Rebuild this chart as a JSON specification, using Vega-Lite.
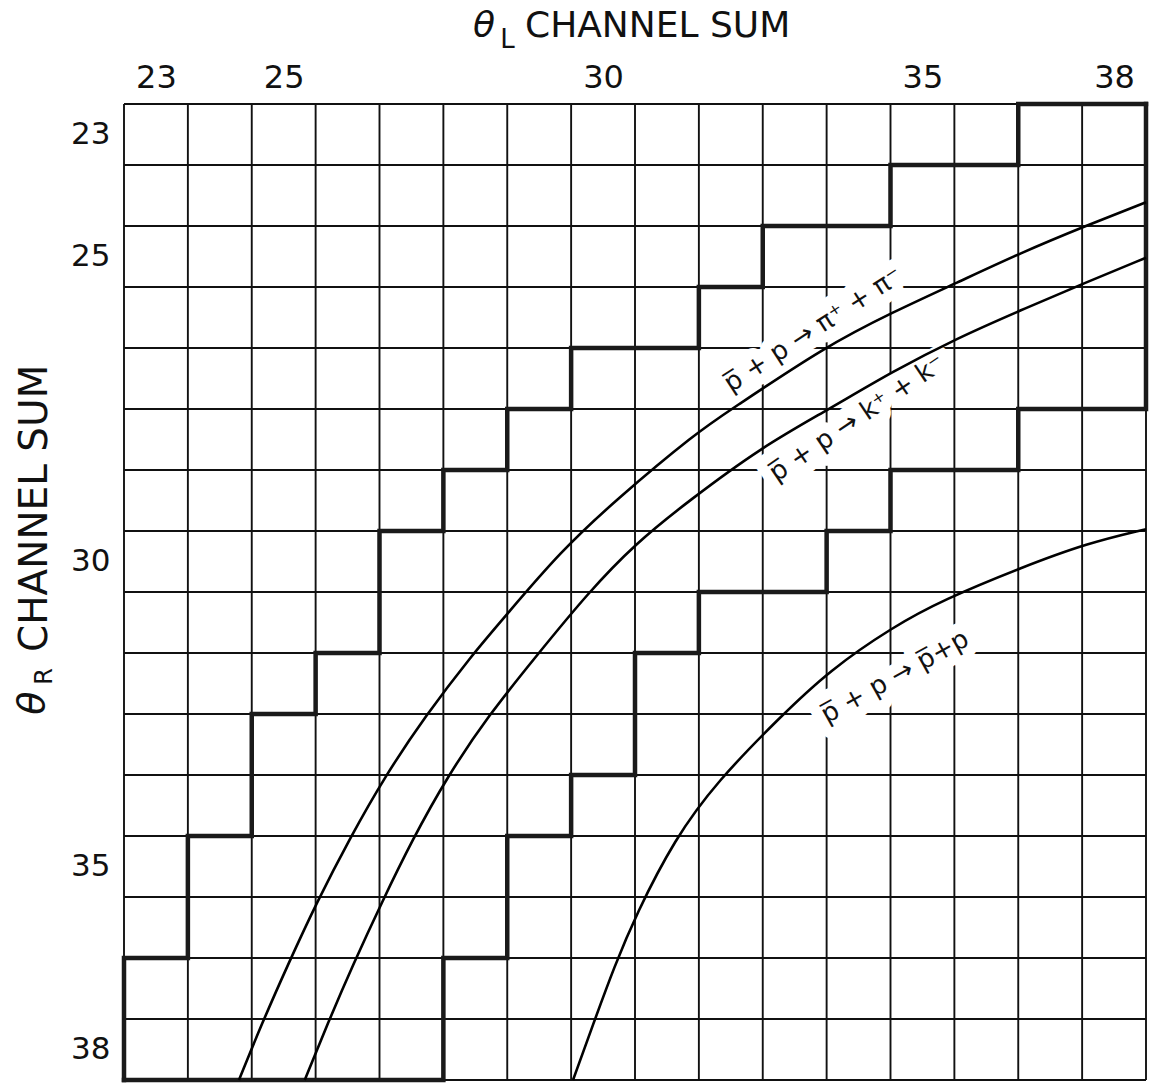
{
  "$schema": "https://vega.github.io/schema/vega-lite/v6.json",
  "autosize": "none",
  "width": 1022,
  "height": 976,
  "padding": {"left": 124, "top": 104, "right": 3, "bottom": 3},
  "background": "white",
  "config": {"view": {"stroke": null}},
  "datasets": {
    "edges": [
      {"v": 22.5}, {"v": 23.5}, {"v": 24.5}, {"v": 25.5}, {"v": 26.5}, {"v": 27.5},
      {"v": 28.5}, {"v": 29.5}, {"v": 30.5}, {"v": 31.5}, {"v": 32.5}, {"v": 33.5},
      {"v": 34.5}, {"v": 35.5}, {"v": 36.5}, {"v": 37.5}, {"v": 38.5}
    ],
    "stairs": [
      {"boundary": "upper", "step": 1, "x": 38.5, "y": 22.5},
      {"boundary": "upper", "step": 2, "x": 36.5, "y": 22.5},
      {"boundary": "upper", "step": 3, "x": 36.5, "y": 23.5},
      {"boundary": "upper", "step": 4, "x": 34.5, "y": 23.5},
      {"boundary": "upper", "step": 5, "x": 34.5, "y": 24.5},
      {"boundary": "upper", "step": 6, "x": 32.5, "y": 24.5},
      {"boundary": "upper", "step": 7, "x": 32.5, "y": 25.5},
      {"boundary": "upper", "step": 8, "x": 31.5, "y": 25.5},
      {"boundary": "upper", "step": 9, "x": 31.5, "y": 26.5},
      {"boundary": "upper", "step": 10, "x": 29.5, "y": 26.5},
      {"boundary": "upper", "step": 11, "x": 29.5, "y": 27.5},
      {"boundary": "upper", "step": 12, "x": 28.5, "y": 27.5},
      {"boundary": "upper", "step": 13, "x": 28.5, "y": 28.5},
      {"boundary": "upper", "step": 14, "x": 27.5, "y": 28.5},
      {"boundary": "upper", "step": 15, "x": 27.5, "y": 29.5},
      {"boundary": "upper", "step": 16, "x": 26.5, "y": 29.5},
      {"boundary": "upper", "step": 17, "x": 26.5, "y": 31.5},
      {"boundary": "upper", "step": 18, "x": 25.5, "y": 31.5},
      {"boundary": "upper", "step": 19, "x": 25.5, "y": 32.5},
      {"boundary": "upper", "step": 20, "x": 24.5, "y": 32.5},
      {"boundary": "upper", "step": 21, "x": 24.5, "y": 34.5},
      {"boundary": "upper", "step": 22, "x": 23.5, "y": 34.5},
      {"boundary": "upper", "step": 23, "x": 23.5, "y": 36.5},
      {"boundary": "upper", "step": 24, "x": 22.5, "y": 36.5},
      {"boundary": "upper", "step": 25, "x": 22.5, "y": 38.5},
      {"boundary": "lower", "step": 1, "x": 22.5, "y": 38.5},
      {"boundary": "lower", "step": 2, "x": 27.5, "y": 38.5},
      {"boundary": "lower", "step": 3, "x": 27.5, "y": 36.5},
      {"boundary": "lower", "step": 4, "x": 28.5, "y": 36.5},
      {"boundary": "lower", "step": 5, "x": 28.5, "y": 34.5},
      {"boundary": "lower", "step": 6, "x": 29.5, "y": 34.5},
      {"boundary": "lower", "step": 7, "x": 29.5, "y": 33.5},
      {"boundary": "lower", "step": 8, "x": 30.5, "y": 33.5},
      {"boundary": "lower", "step": 9, "x": 30.5, "y": 31.5},
      {"boundary": "lower", "step": 10, "x": 31.5, "y": 31.5},
      {"boundary": "lower", "step": 11, "x": 31.5, "y": 30.5},
      {"boundary": "lower", "step": 12, "x": 33.5, "y": 30.5},
      {"boundary": "lower", "step": 13, "x": 33.5, "y": 29.5},
      {"boundary": "lower", "step": 14, "x": 34.5, "y": 29.5},
      {"boundary": "lower", "step": 15, "x": 34.5, "y": 28.5},
      {"boundary": "lower", "step": 16, "x": 36.5, "y": 28.5},
      {"boundary": "lower", "step": 17, "x": 36.5, "y": 27.5},
      {"boundary": "lower", "step": 18, "x": 38.5, "y": 27.5},
      {"boundary": "lower", "step": 19, "x": 38.5, "y": 22.5}
    ],
    "curves": [
      {"reaction": "pipi", "x": 24.30, "y": 38.5},
      {"reaction": "pipi", "x": 24.66, "y": 37.57},
      {"reaction": "pipi", "x": 25.07, "y": 36.60},
      {"reaction": "pipi", "x": 25.52, "y": 35.58},
      {"reaction": "pipi", "x": 26.04, "y": 34.53},
      {"reaction": "pipi", "x": 26.58, "y": 33.53},
      {"reaction": "pipi", "x": 27.22, "y": 32.53},
      {"reaction": "pipi", "x": 27.95, "y": 31.53},
      {"reaction": "pipi", "x": 28.46, "y": 30.91},
      {"reaction": "pipi", "x": 29.33, "y": 29.84},
      {"reaction": "pipi", "x": 30.20, "y": 28.99},
      {"reaction": "pipi", "x": 31.47, "y": 27.88},
      {"reaction": "pipi", "x": 31.99, "y": 27.52},
      {"reaction": "pipi", "x": 33.47, "y": 26.48},
      {"reaction": "pipi", "x": 34.54, "y": 25.91},
      {"reaction": "pipi", "x": 35.54, "y": 25.43},
      {"reaction": "pipi", "x": 36.54, "y": 24.94},
      {"reaction": "pipi", "x": 37.55, "y": 24.50},
      {"reaction": "pipi", "x": 38.5, "y": 24.11},
      {"reaction": "KK", "x": 25.33, "y": 38.5},
      {"reaction": "KK", "x": 25.69, "y": 37.57},
      {"reaction": "KK", "x": 26.09, "y": 36.60},
      {"reaction": "KK", "x": 26.54, "y": 35.58},
      {"reaction": "KK", "x": 27.01, "y": 34.57},
      {"reaction": "KK", "x": 27.56, "y": 33.53},
      {"reaction": "KK", "x": 28.20, "y": 32.53},
      {"reaction": "KK", "x": 28.97, "y": 31.53},
      {"reaction": "KK", "x": 29.76, "y": 30.52},
      {"reaction": "KK", "x": 30.50, "y": 29.71},
      {"reaction": "KK", "x": 31.36, "y": 28.99},
      {"reaction": "KK", "x": 32.49, "y": 28.12},
      {"reaction": "KK", "x": 33.51, "y": 27.52},
      {"reaction": "KK", "x": 34.54, "y": 26.88},
      {"reaction": "KK", "x": 35.54, "y": 26.34},
      {"reaction": "KK", "x": 36.54, "y": 25.88},
      {"reaction": "KK", "x": 37.55, "y": 25.43},
      {"reaction": "KK", "x": 38.5, "y": 25.02},
      {"reaction": "pbarp", "x": 29.53, "y": 38.5},
      {"reaction": "pbarp", "x": 29.84, "y": 37.60},
      {"reaction": "pbarp", "x": 30.18, "y": 36.63},
      {"reaction": "pbarp", "x": 30.52, "y": 35.78},
      {"reaction": "pbarp", "x": 31.12, "y": 34.55},
      {"reaction": "pbarp", "x": 31.78, "y": 33.61},
      {"reaction": "pbarp", "x": 32.77, "y": 32.55},
      {"reaction": "pbarp", "x": 33.55, "y": 31.78},
      {"reaction": "pbarp", "x": 34.54, "y": 31.07},
      {"reaction": "pbarp", "x": 35.32, "y": 30.63},
      {"reaction": "pbarp", "x": 36.57, "y": 30.09},
      {"reaction": "pbarp", "x": 37.58, "y": 29.70},
      {"reaction": "pbarp", "x": 38.5, "y": 29.47}
    ]
  },
  "layer": [
    {
      "data": {"name": "edges"},
      "mark": {"type": "rule", "color": "#111111", "strokeWidth": 1.9},
      "encoding": {
        "x": {"field": "v", "type": "quantitative",
          "scale": {"domain": [22.5, 38.5], "nice": false, "zero": false},
          "axis": {"orient": "top", "values": [23, 25, 30, 35, 38], "format": "d", "title": null, "ticks": false,
            "domain": false, "grid": false, "labelFont": "DejaVu Sans", "labelFontSize": 32, "labelColor": "#111111",
            "labelPadding": 17, "labelBaseline": "alphabetic", "labelFlush": false}}
      }
    },
    {
      "data": {"name": "edges"},
      "mark": {"type": "rule", "color": "#111111", "strokeWidth": 1.9},
      "encoding": {
        "y": {"field": "v", "type": "quantitative",
          "scale": {"domain": [22.5, 38.5], "nice": false, "zero": false, "reverse": true},
          "axis": {"orient": "left", "values": [23, 25, 30, 35, 38], "format": "d", "title": null, "ticks": false,
            "domain": false, "grid": false, "labelFont": "DejaVu Sans", "labelFontSize": 31, "labelColor": "#111111",
            "labelPadding": 14, "labelFlush": false}}
      }
    },
    {
      "data": {"values": [{"label": "p\u0305 + p → π⁺ + π⁻"}]},
      "mark": {"type": "text", "angle": 327, "font": "DejaVu Sans", "fontSize": 26, "align": "center", "baseline": "middle",
        "fill": "white", "stroke": "white", "strokeWidth": 22, "strokeJoin": "round"},
      "encoding": {
        "x": {"datum": 33.29, "type": "quantitative", "scale": {"domain": [22.5, 38.5], "nice": false, "zero": false}, "axis": {"title": null}},
        "y": {"datum": 26.2, "type": "quantitative", "scale": {"domain": [22.5, 38.5], "nice": false, "zero": false, "reverse": true}, "axis": {"title": null}},
        "text": {"field": "label"}
      }
    },
    {
      "data": {"values": [{"label": "p\u0305 + p → k⁺ + k⁻"}]},
      "mark": {"type": "text", "angle": 326, "font": "DejaVu Sans", "fontSize": 26, "align": "center", "baseline": "middle",
        "fill": "white", "stroke": "white", "strokeWidth": 22, "strokeJoin": "round"},
      "encoding": {
        "x": {"datum": 33.98, "type": "quantitative", "scale": {"domain": [22.5, 38.5], "nice": false, "zero": false}, "axis": {"title": null}},
        "y": {"datum": 27.65, "type": "quantitative", "scale": {"domain": [22.5, 38.5], "nice": false, "zero": false, "reverse": true}, "axis": {"title": null}},
        "text": {"field": "label"}
      }
    },
    {
      "data": {"values": [{"label": "p\u0305 + p → p\u0305+p"}]},
      "mark": {"type": "text", "angle": 331, "font": "DejaVu Sans", "fontSize": 26, "align": "center", "baseline": "middle",
        "fill": "white", "stroke": "white", "strokeWidth": 22, "strokeJoin": "round"},
      "encoding": {
        "x": {"datum": 34.57, "type": "quantitative", "scale": {"domain": [22.5, 38.5], "nice": false, "zero": false}, "axis": {"title": null}},
        "y": {"datum": 31.89, "type": "quantitative", "scale": {"domain": [22.5, 38.5], "nice": false, "zero": false, "reverse": true}, "axis": {"title": null}},
        "text": {"field": "label"}
      }
    },
    {
      "data": {"name": "stairs"},
      "mark": {"type": "line", "color": "#1a1a1a", "strokeWidth": 4.5, "strokeCap": "square", "strokeJoin": "miter"},
      "encoding": {
        "x": {"field": "x", "type": "quantitative", "scale": {"domain": [22.5, 38.5], "nice": false, "zero": false}, "axis": {"title": null}},
        "y": {"field": "y", "type": "quantitative", "scale": {"domain": [22.5, 38.5], "nice": false, "zero": false, "reverse": true}, "axis": {"title": null}},
        "detail": {"field": "boundary"},
        "order": {"field": "step", "type": "quantitative"}
      }
    },
    {
      "data": {"name": "curves"},
      "mark": {"type": "line", "color": "#000000", "strokeWidth": 2.6, "interpolate": "basis"},
      "encoding": {
        "x": {"field": "x", "type": "quantitative", "scale": {"domain": [22.5, 38.5], "nice": false, "zero": false}, "axis": {"title": null}},
        "y": {"field": "y", "type": "quantitative", "scale": {"domain": [22.5, 38.5], "nice": false, "zero": false, "reverse": true}, "axis": {"title": null}},
        "detail": {"field": "reaction"}
      }
    },
    {
      "data": {"values": [{"label": "p\u0305 + p → π⁺ + π⁻"}]},
      "mark": {"type": "text", "angle": 327, "font": "DejaVu Sans", "fontSize": 26, "align": "center", "baseline": "middle", "fill": "#111111"},
      "encoding": {
        "x": {"datum": 33.29, "type": "quantitative", "scale": {"domain": [22.5, 38.5], "nice": false, "zero": false}, "axis": {"title": null}},
        "y": {"datum": 26.2, "type": "quantitative", "scale": {"domain": [22.5, 38.5], "nice": false, "zero": false, "reverse": true}, "axis": {"title": null}},
        "text": {"field": "label"}
      }
    },
    {
      "data": {"values": [{"label": "p\u0305 + p → k⁺ + k⁻"}]},
      "mark": {"type": "text", "angle": 326, "font": "DejaVu Sans", "fontSize": 26, "align": "center", "baseline": "middle", "fill": "#111111"},
      "encoding": {
        "x": {"datum": 33.98, "type": "quantitative", "scale": {"domain": [22.5, 38.5], "nice": false, "zero": false}, "axis": {"title": null}},
        "y": {"datum": 27.65, "type": "quantitative", "scale": {"domain": [22.5, 38.5], "nice": false, "zero": false, "reverse": true}, "axis": {"title": null}},
        "text": {"field": "label"}
      }
    },
    {
      "data": {"values": [{"label": "p\u0305 + p → p\u0305+p"}]},
      "mark": {"type": "text", "angle": 331, "font": "DejaVu Sans", "fontSize": 26, "align": "center", "baseline": "middle", "fill": "#111111"},
      "encoding": {
        "x": {"datum": 34.57, "type": "quantitative", "scale": {"domain": [22.5, 38.5], "nice": false, "zero": false}, "axis": {"title": null}},
        "y": {"datum": 31.89, "type": "quantitative", "scale": {"domain": [22.5, 38.5], "nice": false, "zero": false, "reverse": true}, "axis": {"title": null}},
        "text": {"field": "label"}
      }
    },
    {
      "data": {"values": [{"label": "θ"}]},
      "mark": {"type": "text", "font": "DejaVu Sans", "fontStyle": "italic", "fontSize": 36, "align": "center", "baseline": "alphabetic", "fill": "#111111"},
      "encoding": {
        "x": {"datum": 28.136, "type": "quantitative", "scale": {"domain": [22.5, 38.5], "nice": false, "zero": false}, "axis": {"title": null}},
        "y": {"datum": 21.402, "type": "quantitative", "scale": {"domain": [22.5, 38.5], "nice": false, "zero": false, "reverse": true}, "axis": {"title": null}},
        "text": {"field": "label"}
      }
    },
    {
      "data": {"values": [{"label": "L"}]},
      "mark": {"type": "text", "font": "DejaVu Sans", "fontSize": 26, "align": "left", "baseline": "alphabetic", "fill": "#111111"},
      "encoding": {
        "x": {"datum": 28.39, "type": "quantitative", "scale": {"domain": [22.5, 38.5], "nice": false, "zero": false}, "axis": {"title": null}},
        "y": {"datum": 21.582, "type": "quantitative", "scale": {"domain": [22.5, 38.5], "nice": false, "zero": false, "reverse": true}, "axis": {"title": null}},
        "text": {"field": "label"}
      }
    },
    {
      "data": {"values": [{"label": "CHANNEL SUM"}]},
      "mark": {"type": "text", "font": "DejaVu Sans", "fontSize": 36, "align": "left", "baseline": "alphabetic", "fill": "#111111"},
      "encoding": {
        "x": {"datum": 28.778, "type": "quantitative", "scale": {"domain": [22.5, 38.5], "nice": false, "zero": false}, "axis": {"title": null}},
        "y": {"datum": 21.402, "type": "quantitative", "scale": {"domain": [22.5, 38.5], "nice": false, "zero": false, "reverse": true}, "axis": {"title": null}},
        "text": {"field": "label"}
      }
    },
    {
      "data": {"values": [{"label": "θ"}]},
      "mark": {"type": "text", "angle": 270, "font": "DejaVu Sans", "fontStyle": "italic", "fontSize": 38, "align": "center", "baseline": "alphabetic", "fill": "#111111"},
      "encoding": {
        "x": {"datum": 21.248, "type": "quantitative", "scale": {"domain": [22.5, 38.5], "nice": false, "zero": false}, "axis": {"title": null}},
        "y": {"datum": 32.32, "type": "quantitative", "scale": {"domain": [22.5, 38.5], "nice": false, "zero": false, "reverse": true}, "axis": {"title": null}},
        "text": {"field": "label"}
      }
    },
    {
      "data": {"values": [{"label": "R"}]},
      "mark": {"type": "text", "angle": 270, "font": "DejaVu Sans", "fontSize": 24, "align": "left", "baseline": "alphabetic", "fill": "#111111"},
      "encoding": {
        "x": {"datum": 21.373, "type": "quantitative", "scale": {"domain": [22.5, 38.5], "nice": false, "zero": false}, "axis": {"title": null}},
        "y": {"datum": 32.02, "type": "quantitative", "scale": {"domain": [22.5, 38.5], "nice": false, "zero": false, "reverse": true}, "axis": {"title": null}},
        "text": {"field": "label"}
      }
    },
    {
      "data": {"values": [{"label": "CHANNEL SUM"}]},
      "mark": {"type": "text", "angle": 270, "font": "DejaVu Sans", "fontSize": 39, "align": "left", "baseline": "alphabetic", "fill": "#111111"},
      "encoding": {
        "x": {"datum": 21.295, "type": "quantitative", "scale": {"domain": [22.5, 38.5], "nice": false, "zero": false}, "axis": {"title": null}},
        "y": {"datum": 31.484, "type": "quantitative", "scale": {"domain": [22.5, 38.5], "nice": false, "zero": false, "reverse": true}, "axis": {"title": null}},
        "text": {"field": "label"}
      }
    }
  ]
}
